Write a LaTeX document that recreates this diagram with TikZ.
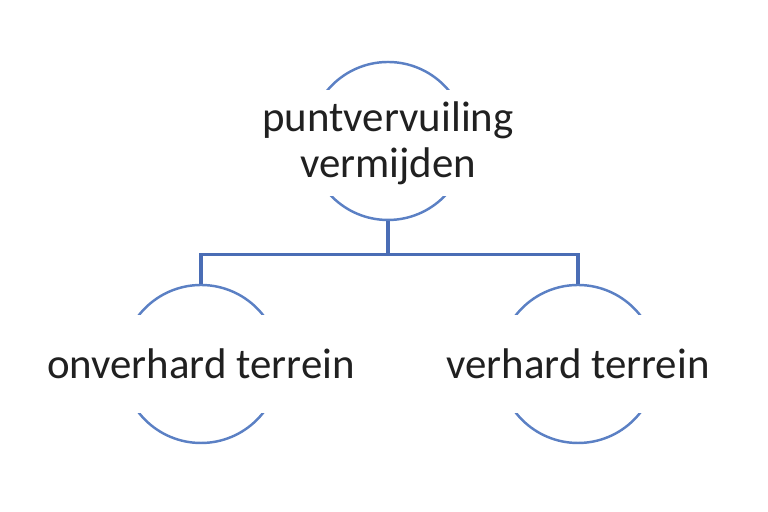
\documentclass[tikz,border=0pt]{standalone}
\usepackage{fontspec}
\setmainfont{Carlito}
\usepackage{xcolor}
\definecolor{smartblue}{HTML}{5B80C4}
\definecolor{linkblue}{HTML}{4A6DB5}
\definecolor{textgray}{HTML}{202020}
\begin{document}
\begin{tikzpicture}
\useasboundingbox (0,0) rectangle (7.68,5.12);

\node[circle, draw=smartblue, line width=0.7pt, minimum size=1.58cm] (goal) at (3.88,3.71) {};
\node[circle, draw=smartblue, line width=0.7pt, minimum size=1.58cm] (unpaved) at (2.01,1.48) {};
\node[circle, draw=smartblue, line width=0.7pt, minimum size=1.58cm] (paved) at (5.78,1.48) {};

\node[fill=white, minimum height=1.0cm, align=center, text=textgray, font=\fontsize{12.2}{13}\selectfont] (goaltext) at (3.88,3.69) {puntvervuiling\\vermijden};
\node[fill=white, minimum height=0.98cm, text=textgray, font=\fontsize{12.2}{13}\selectfont] (unpavedtext) at (unpaved) {onverhard terrein};
\node[fill=white, minimum height=0.98cm, text=textgray, font=\fontsize{12.2}{13}\selectfont] (pavedtext) at (paved) {verhard terrein};

\draw[linkblue, line width=0.9pt] (goal.south) -- ++(0,-0.33) -| (unpaved.north)
             (goal.south) -- ++(0,-0.33) -| (paved.north);
\end{tikzpicture}
\end{document}
